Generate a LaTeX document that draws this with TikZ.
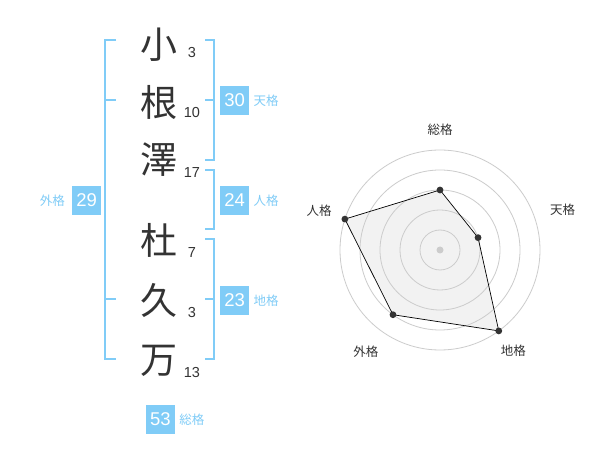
\documentclass[tikz,border=0pt]{standalone}
\usepackage{fontspec}
\setmainfont{Liberation Sans}
\newfontfamily\jpfont{Noto Sans CJK JP}
\usetikzlibrary{positioning}
\definecolor{kakublue}{HTML}{80CCF7}
\definecolor{inkgray}{HTML}{333333}
\definecolor{ringgray}{HTML}{CCCCCC}
\definecolor{areagray}{HTML}{F2F2F2}

\begin{document}
\begin{tikzpicture}[x=1pt, y=-1pt,
  kanji/.style={inner sep=0pt, text=inkgray, font=\jpfont\fontsize{37}{37}\selectfont},
  strokes/.style={inner sep=0pt, text=inkgray, font=\fontsize{14.5}{14.5}\selectfont},
  kakubox/.style={fill=kakublue, minimum size=29pt, inner sep=0pt, text=white, font=\fontsize{18.5}{18.5}\selectfont},
  kakulbl/.style={inner sep=0pt, text=kakublue, font=\jpfont\fontsize{12.5}{12.5}\selectfont},
  bracket/.style={draw=kakublue, line width=2pt},
  axislbl/.style={inner sep=0pt, text=inkgray, font=\jpfont\fontsize{12.5}{12.5}\selectfont}]
  \fill[white] (0,0) rectangle (600,470);
  \useasboundingbox (0,0) rectangle (600,470);

  % Name and stroke counts
  \node[kanji] (k1) at (159,45) {小};
  \node[kanji] (k2) at (159,102) {根};
  \node[kanji] (k3) at (159,160) {澤};
  \node[kanji] (k4) at (159,240) {杜};
  \node[kanji] (k5) at (159,300) {久};
  \node[kanji] (k6) at (159,361) {万};
  \node[strokes] (s1) at (192,52.5) {3};
  \node[strokes] (s2) at (192,112.5) {10};
  \node[strokes] (s3) at (192,172.5) {17};
  \node[strokes] (s4) at (192,252.5) {7};
  \node[strokes] (s5) at (192,312.5) {3};
  \node[strokes] (s6) at (192,372.3) {13};

  % Brackets
  \draw[bracket] (116,40) -- (105,40) -- (105,359) -- (116,359);
  \draw[bracket] (105,100) -- (116,100);
  \draw[bracket] (105,299.3) -- (116,299.3);
  \draw[bracket] (205,40) -- (214.3,40) -- (214.3,160) -- (205,160);
  \draw[bracket] (205,100) -- (214.3,100);
  \draw[bracket] (205,170) -- (214.3,170) -- (214.3,229.3) -- (205,229.3);
  \draw[bracket] (205,239.3) -- (214.3,239.3) -- (214.3,359.3) -- (205,359.3);
  \draw[bracket] (205,299.3) -- (214.3,299.3);

  % Scores
  \node[kakubox] (ten) at (234.7,100.3) {30};
  \node[kakubox] (jin) at (234.7,200.3) {24};
  \node[kakubox] (chi) at (234.7,300.5) {23};
  \node[kakubox] (gai) at (86.7,200.3) {29};
  \node[kakubox] (sou) at (160.5,419.5) {53};
  \node[kakulbl, right=4pt of ten] (tenlbl) {天格};
  \node[kakulbl, right=4pt of jin] (jinlbl) {人格};
  \node[kakulbl, right=4pt of chi] (chilbl) {地格};
  \node[kakulbl, left=7pt of gai] (gailbl) {外格};
  \node[kakulbl, right=4pt of sou] (soulbl) {総格};

  % Radar chart
  \begin{scope}[shift={(440,250)}, yscale=-1]
    \foreach \a/\v/\n in {90/60/sou, 18/40/ten, -54/100/chi, -126/80/gai, 162/100/jin}
      \coordinate (p\n) at (\a:\v);
    \fill[areagray] (psou) -- (pten) -- (pchi) -- (pgai) -- (pjin) -- cycle;
    \foreach \r in {20,40,...,100}
      \draw[ringgray, line width=0.8pt] (0,0) circle[radius=\r pt];
    \fill[ringgray] (0,0) circle[radius=3.5pt];
    \draw[black, line width=0.7pt]
      (psou) -- (pten) -- (pchi) -- (pgai) -- (pjin) -- cycle;
    \foreach \n in {sou,ten,chi,gai,jin}
      \fill[inkgray] (p\n) circle[radius=3.4pt];
    \node[axislbl] (asou) at (90:120) {総格};
    \node[axislbl] (aten) at (18:129) {天格};
    \node[axislbl] (achi) at (-54:125) {地格};
    \node[axislbl] (agai) at (-126:126) {外格};
    \node[axislbl] (ajin) at (162:127) {人格};
  \end{scope}
\end{tikzpicture}
\end{document}
